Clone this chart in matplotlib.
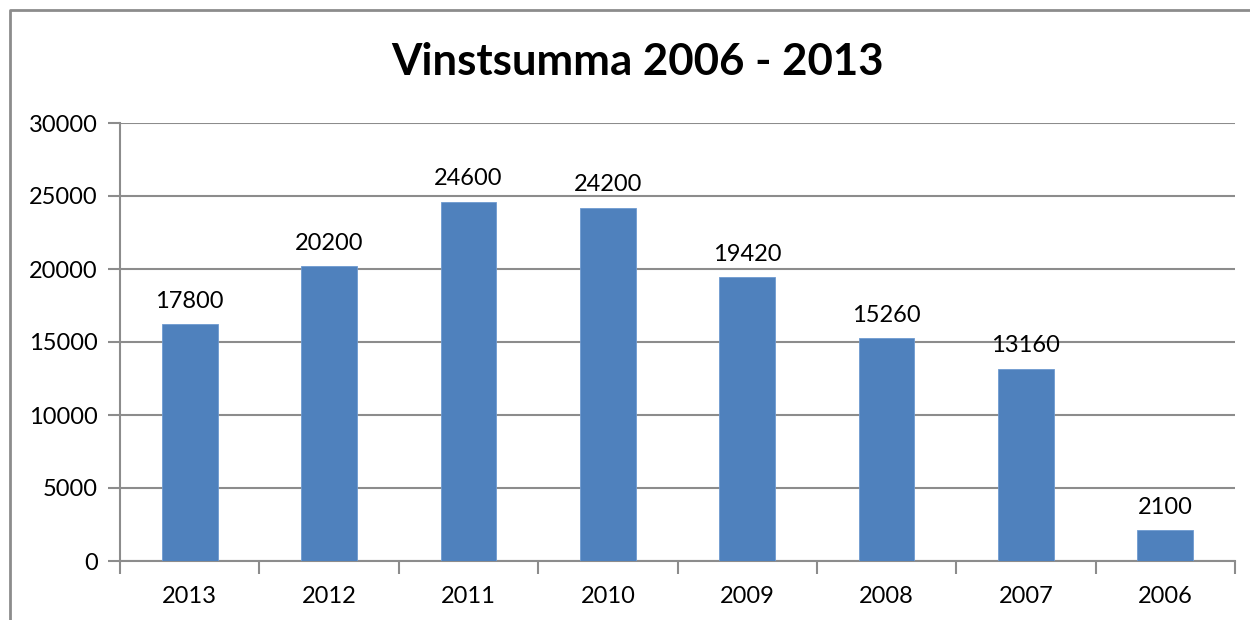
import matplotlib.pyplot as plt
from matplotlib.lines import Line2D
import numpy as np

plt.rcParams['font.family'] = ['Lato', 'DejaVu Sans']

years = ['2013', '2012', '2011', '2010', '2009', '2008', '2007', '2006']
# bar heights as drawn in the picture
bar_heights = [16200, 20200, 24600, 24200, 19420, 15260, 13160, 2100]
# labels shown above the bars (2013 label differs from its bar)
bar_labels = ['17800', '20200', '24600', '24200', '19420', '15260', '13160', '2100']
y_ticks = [0, 5000, 10000, 15000, 20000, 25000, 30000]

fig = plt.figure(figsize=(12.5, 6.2), dpi=100)
ax = fig.add_axes([120/1250, 1 - 561/620, 1115/1250, 438/620])

x = np.arange(len(years))
ax.bar(x, bar_heights, width=0.4, color='#4F81BD', edgecolor='#6F9AD0', linewidth=0.6, zorder=3)

for xi, h, lab in zip(x, bar_heights, bar_labels):
    ax.annotate(lab, (xi, h), xytext=(0, 9), textcoords='offset points',
                ha='center', va='bottom', fontsize=17, color='black')

ax.set_xlim(-0.5, len(years) - 0.5)
ax.set_ylim(0, 30000)
ax.set_yticks(y_ticks)
ax.set_yticklabels([str(t) for t in y_ticks])
ax.set_xticks(x)
ax.set_xticklabels(years)
ax.set_xticks(np.arange(-0.5, len(years)), minor=True)

ax.grid(axis='y', color='#8c8c8c', linewidth=1.5, zorder=0)
ax.tick_params(axis='y', length=9, width=1.5, color='#8c8c8c', labelsize=17, pad=7)
ax.tick_params(axis='x', which='major', length=0, labelsize=17, pad=18)
ax.tick_params(axis='x', which='minor', length=9, width=1.5, color='#8c8c8c')

for side in ['top', 'right']:
    ax.spines[side].set_visible(False)
for side in ['left', 'bottom']:
    ax.spines[side].set_color('#8c8c8c')
    ax.spines[side].set_linewidth(1.5)

fig.text(637/1250, 1 - 62/620, 'Vinstsumma 2006 - 2013', ha='center', va='center',
         fontsize=31.5, fontweight='bold')

# outer chart frame, cut off at the right and bottom
fig.add_artist(Line2D([10/1250, 10/1250, 1], [0, 1 - 10/620, 1 - 10/620],
                      transform=fig.transFigure, color='#8c8c8c', linewidth=2))

fig.savefig('out.png', dpi=100)
